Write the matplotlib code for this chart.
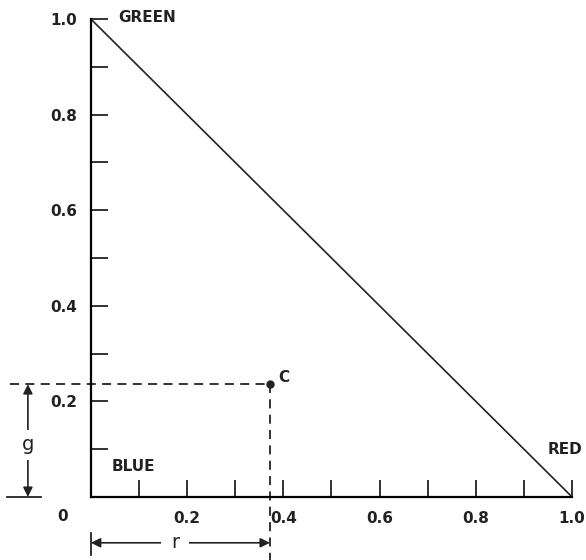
import matplotlib
matplotlib.use("Agg")
import matplotlib.pyplot as plt

# triangle edge, green corner to red corner
edge_r = [0.0, 1.0]
edge_g = [1.0, 0.0]

# point C
c_r = 0.372
c_g = 0.236

major = [0.2, 0.4, 0.6, 0.8, 1.0]
minor = [0.1, 0.3, 0.5, 0.7, 0.9]
major_labels = ["0.2", "0.4", "0.6", "0.8", "1.0"]

plt.rcParams['font.family'] = ['DejaVu Sans']
fig = plt.figure(figsize=(5.86, 5.6), dpi=100)
ax = fig.add_axes([0, 0, 1, 1])
ax.set_xlim(-0.189, 1.029)
ax.set_ylim(-0.132, 1.040)

for s in ['top', 'right']:
    ax.spines[s].set_visible(False)
ax.spines['left'].set_position(('data', 0))
ax.spines['bottom'].set_position(('data', 0))
ax.spines['left'].set_bounds(0, 1)
ax.spines['bottom'].set_bounds(0, 1)
for s in ['left', 'bottom']:
    ax.spines[s].set_linewidth(1.6)

ax.set_xticks(major, major_labels)
ax.set_yticks(major, major_labels)
ax.set_xticks(minor, minor=True)
ax.set_yticks(minor, minor=True)
ax.tick_params(which='both', direction='in', length=12, width=1.3, color='#222222')
ax.tick_params(axis='x', pad=10)
ax.tick_params(axis='y', pad=10)
for lab in ax.get_xticklabels() + ax.get_yticklabels():
    lab.set_fontsize(11)
    lab.set_fontweight('bold')
    lab.set_color('#222222')

ax.plot(edge_r, edge_g, color='#222222', lw=1.2)

# dashed guides to C
ax.plot([-0.168, c_r], [c_g, c_g], color='#222222', lw=1.3, ls=(0, (5, 3.5)))
ax.plot([c_r, c_r], [c_g, -0.14], color='#222222', lw=1.3, ls=(0, (5, 3.5)), clip_on=False)
ax.plot([c_r], [c_g], 'o', color='#222222', ms=5)

txt = dict(fontsize=11, fontweight='bold', color='#222222')
ax.text(0.056, 1.004, "GREEN", ha='left', va='center', **txt)
ax.text(0.950, 0.100, "RED", ha='left', va='center', **txt)
ax.text(0.044, 0.063, "BLUE", ha='left', va='center', **txt)
ax.text(0.389, 0.249, "C", ha='left', va='center', **txt)
ax.text(-0.06, -0.042, "0", ha='center', va='center', **txt)

# g dimension
gx = -0.131
ax.plot([-0.175, -0.104], [0, 0], color='#222222', lw=1.3)
ax.annotate("", xy=(gx, c_g), xytext=(gx, 0),
            arrowprops=dict(arrowstyle='<|-|>', color='#222222', lw=1.2,
                            shrinkA=0, shrinkB=0, mutation_scale=14))
ax.text(gx, 0.109, "g", ha='center', va='center', fontsize=14, color='#222222',
        bbox=dict(fc='white', ec='none', pad=4))

# r dimension
ry = -0.096
ax.plot([0, 0], [-0.075, -0.121], color='#222222', lw=1.3)
ax.annotate("", xy=(c_r, ry), xytext=(0, ry),
            arrowprops=dict(arrowstyle='<|-|>', color='#222222', lw=1.2,
                            shrinkA=0, shrinkB=0, mutation_scale=14))
ax.text(0.175, ry, "r", ha='center', va='center', fontsize=14, color='#222222',
        bbox=dict(fc='white', ec='none', pad=7))

fig.savefig("out.png", dpi=100)
